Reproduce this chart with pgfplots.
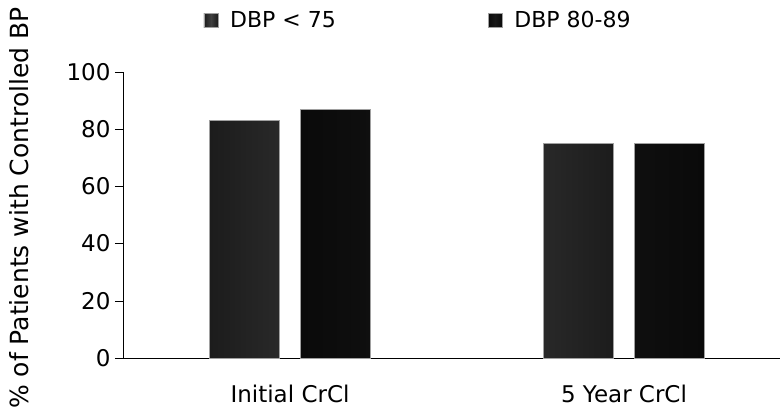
\documentclass[border=0pt]{standalone}
\usepackage{pgfplots}
\pgfplotsset{compat=1.18}
\usepackage{fontspec}
\setmainfont{DejaVu Sans}
\definecolor{sAedge}{HTML}{1C1C1C}
\definecolor{sAmid}{HTML}{404040}
\definecolor{sBedge}{HTML}{0A0A0A}
\definecolor{sBmid}{HTML}{181818}
\definecolor{topline}{HTML}{A0A0A0}
\begin{document}
\begin{tikzpicture}
\path[use as bounding box] (-123bp,-58bp) rectangle (657bp,358bp);
\begin{axis}[
  at={(0,0)}, anchor=south west,
  scale only axis, width=657bp, height=286bp,
  xmin=-0.5, xmax=1.467, ymin=0, ymax=100,
  axis lines*=left,
  axis line style={line width=0.8pt},
  ytick={0,20,40,60,80,100},
  xtick={0,1},
  xticklabels={Initial CrCl, 5 Year CrCl},
  major x tick style={draw=none},
  extra x ticks={-0.5,0.5},
  extra x tick labels={},
  extra x tick style={tick style={line width=0.6pt, draw=black}},
  tick align=outside,
  major tick length=8bp,
  tick style={line width=0.6pt, draw=black},
  /pgf/number format/assume math mode=true,
  tick label style={font=\fontsize{23bp}{27bp}\selectfont},
  xticklabel style={yshift=-16bp},
  yticklabel style={xshift=-1bp},
  ylabel={\% of Patients with Controlled BP},
  ylabel style={font=\fontsize{25bp}{30bp}\selectfont, at={(axis description cs:-0.158,0.524)}, anchor=center},
  legend columns=2,
  legend style={draw=none, fill=none, at={(rel axis cs:0.118,1.18)}, anchor=west,
    font=\fontsize{22bp}{26bp}\selectfont,
    /tikz/every odd column/.append style={column sep=10bp},
    /tikz/every even column/.append style={column sep=150bp}},
  legend image code/.code={\path[#1] (0bp,-7bp) rectangle (14bp,7bp);},
]
\addplot[ybar, bar width=70bp, bar shift=-45.5bp, draw=topline, line width=0.5pt,
  left color=sAedge, right color=sAedge, middle color=sAmid]
  coordinates {(0,83) (1,75)};
\addlegendentry{DBP < 75}
\addplot[ybar, bar width=70bp, bar shift=45.5bp, draw=topline, line width=0.5pt,
  left color=sBedge, right color=sBedge, middle color=sBmid]
  coordinates {(0,87) (1,75)};
\addlegendentry{DBP 80-89}
\end{axis}
\end{tikzpicture}
\end{document}
